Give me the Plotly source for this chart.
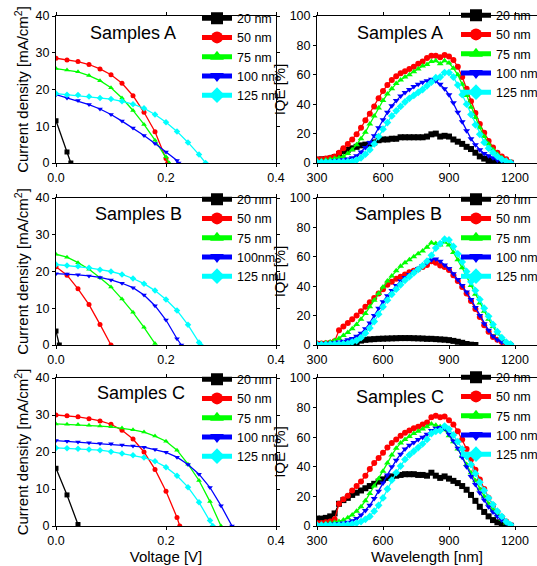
import plotly.graph_objects as go

# ---------------- J-V data ----------------
jvA_20_v = [0.0, 0.02, 0.027]
jvA_20_j = [11.5, 3.0, 0.0]
jvA_50_v = [0.0, 0.02, 0.04, 0.06, 0.08, 0.10, 0.12, 0.14, 0.16, 0.18, 0.20, 0.203]
jvA_50_j = [28.5, 28.0, 27.6, 26.8, 25.6, 24.0, 21.7, 18.3, 13.8, 8.5, 1.2, 0.0]
jvA_75_v = [0.0, 0.02, 0.04, 0.06, 0.08, 0.10, 0.12, 0.14, 0.16, 0.18, 0.20, 0.206]
jvA_75_j = [25.7, 25.3, 24.8, 23.8, 22.4, 20.5, 17.7, 14.3, 10.5, 6.2, 1.7, 0.0]
jvA_100_v = [0.0, 0.02, 0.04, 0.06, 0.08, 0.10, 0.12, 0.14, 0.16, 0.18, 0.20, 0.22, 0.223]
jvA_100_j = [18.6, 17.7, 17.0, 15.9, 14.7, 13.2, 11.4, 9.5, 7.5, 5.3, 3.0, 0.7, 0.0]
jvA_125_v = [0.0, 0.02, 0.04, 0.06, 0.08, 0.10, 0.12, 0.14, 0.16, 0.18, 0.20, 0.22, 0.24, 0.26, 0.272]
jvA_125_j = [18.9, 18.6, 18.5, 18.1, 17.7, 17.4, 16.8, 16.0, 14.9, 13.2, 11.1, 8.6, 5.6, 2.3, 0.0]

jvB_20_v = [0.0, 0.006]
jvB_20_j = [3.8, 0.0]
jvB_50_v = [0.0, 0.02, 0.04, 0.06, 0.08, 0.10]
jvB_50_j = [21.3, 19.0, 15.3, 11.0, 5.6, 0.0]
jvB_75_v = [0.0, 0.02, 0.04, 0.06, 0.08, 0.10, 0.12, 0.14, 0.16, 0.18]
jvB_75_j = [24.7, 23.9, 22.4, 20.6, 18.3, 15.8, 12.5, 8.9, 4.8, 0.4]
jvB_100_v = [0.0, 0.02, 0.04, 0.06, 0.08, 0.10, 0.12, 0.14, 0.16, 0.18, 0.20, 0.22, 0.228]
jvB_100_j = [19.4, 19.3, 19.1, 18.8, 18.4, 17.7, 16.8, 15.6, 13.6, 10.7, 6.8, 1.7, 0.0]
jvB_125_v = [0.0, 0.02, 0.04, 0.06, 0.08, 0.10, 0.12, 0.14, 0.16, 0.18, 0.20, 0.22, 0.24, 0.26, 0.263]
jvB_125_j = [21.9, 21.6, 21.4, 21.0, 20.5, 20.0, 19.2, 18.1, 16.7, 14.8, 12.4, 9.4, 5.5, 0.7, 0.0]

jvC_20_v = [0.0, 0.02, 0.04]
jvC_20_j = [15.6, 8.4, 0.4]
jvC_50_v = [0.0, 0.02, 0.04, 0.06, 0.08, 0.10, 0.12, 0.14, 0.16, 0.18, 0.20, 0.22, 0.225]
jvC_50_j = [30.0, 29.8, 29.5, 29.0, 28.4, 27.5, 25.9, 23.5, 20.0, 15.3, 9.4, 2.3, 0.0]
jvC_75_v = [0.0, 0.02, 0.04, 0.06, 0.08, 0.10, 0.12, 0.14, 0.16, 0.18, 0.20, 0.22, 0.24, 0.26, 0.28, 0.30]
jvC_75_j = [27.6, 27.5, 27.4, 27.2, 27.0, 26.8, 26.5, 26.0, 25.4, 24.3, 22.9, 20.5, 16.7, 12.3, 6.6, 0.0]
jvC_100_v = [0.0, 0.02, 0.04, 0.06, 0.08, 0.10, 0.12, 0.14, 0.16, 0.18, 0.20, 0.22, 0.24, 0.26, 0.28, 0.30, 0.32]
jvC_100_j = [23.1, 22.9, 22.7, 22.5, 22.3, 22.2, 21.9, 21.6, 21.3, 20.7, 19.9, 18.6, 16.6, 14.0, 10.4, 5.5, 0.0]
jvC_125_v = [0.0, 0.02, 0.04, 0.06, 0.08, 0.10, 0.12, 0.14, 0.16, 0.18, 0.20, 0.22, 0.24, 0.26, 0.28, 0.285]
jvC_125_j = [21.1, 21.0, 20.9, 20.7, 20.5, 20.1, 19.6, 19.1, 18.5, 17.5, 15.9, 13.6, 10.5, 6.4, 1.5, 0.0]

# ---------------- IQE data ----------------
wavelength = [300, 320, 340, 360, 380, 400, 420, 440, 460,
              480, 500, 520, 540, 560, 580, 600, 620, 640,
              660, 680, 700, 720, 740, 760, 780, 800, 820,
              840, 860, 880, 900, 920, 940, 960, 980, 1000,
              1020, 1040, 1060, 1080, 1100, 1120, 1140, 1160, 1180]

iqeA_20 = [2, 2.5, 2.5, 3, 4, 6, 8, 9, 10,
           11, 12, 12.5, 13, 14, 15.5, 16, 16, 16.5,
           16.5, 17.5, 17.5, 17.5, 17.5, 17.5, 17.5, 18, 19.5,
           20, 18, 18.5, 18, 16, 14.5, 13, 11, 9.5,
           7, 4.5, 3, 2, 1.2, 0.7, 0.4, 0.2, 0.1]
iqeA_50 = [2.5, 2.5, 3, 3.5, 4.5, 7, 10, 13, 16,
           19.5, 24, 29, 33.5, 38.5, 44, 49, 53, 56.5,
           59, 61, 62.5, 64, 65.5, 67.5, 69, 71.5, 73,
           73, 72, 73.5, 72.5, 70, 65.5, 58.5, 50.5, 42,
           34, 26.5, 20.5, 15, 10.5, 7, 4.5, 2.5, 0.5]
iqeA_75 = [1.5, 1.5, 2, 2.5, 3, 3.5, 4.5, 6.5, 9,
           12.5, 16.5, 21, 26.5, 32, 37.5, 42.5, 47, 50.5,
           54, 56.5, 58.5, 60, 62, 64, 66, 67, 69,
           69.5, 67.5, 69.5, 68, 64.5, 60, 53.5, 46, 38,
           31, 24, 18, 13, 9, 6, 3.5, 1.5, 0.3]
iqeA_100 = [1, 1, 1, 1.2, 1.5, 1.8, 2.2, 2.8, 3.5,
            5, 7.5, 10.5, 14, 18.5, 24, 29.5, 34.5, 39,
            42.5, 45.5, 48, 50, 52, 53.5, 55, 56, 57,
            56, 53.5, 50.5, 46.5, 41, 34.5, 28, 22, 16.5,
            12.5, 9, 6.5, 5, 3.5, 2, 1.2, 0.5, 0.1]
iqeA_125 = [0.5, 0.5, 0.5, 0.6, 0.7, 0.8, 0.8, 0.9, 1,
            2, 3.5, 6, 9, 13, 18, 23, 27.5, 32,
            35.5, 38.5, 41.5, 44, 46, 48, 50, 52.5, 55,
            58, 58.5, 61.5, 61.5, 58.5, 53, 46.5, 40, 33,
            26, 19.5, 14, 10, 7, 4.5, 2.5, 1.2, 0.2]

iqeB_20 = [0.3, 0.3, 0.3, 0.3, 0.3, 0.3, 0.4, 0.5, 1,
           2, 3, 3.5, 3.8, 4, 4.2, 4.3, 4.4, 4.5,
           4.6, 4.7, 4.7, 4.7, 4.6, 4.5, 4.4, 4.2, 4.2,
           4, 3.8, 3.6, 3.3, 2.8, 2.2, 1.5, 0.7, 0.2,
           0, None, None, None, None, None, None, None, None]
iqeB_50 = [1, 1, 1.2, 1.5, 2.5, 10, 12.5, 15, 17.5,
           20, 23, 26, 29, 32, 35, 38, 41, 43,
           45, 46.5, 48, 49.5, 50.5, 51.5, 53, 54.5, 57,
           56, 54, 53, 51, 47.5, 43.5, 39.5, 35, 30,
           24.5, 19, 13.5, 9, 5.5, 3.5, 2, 1, 0.3]
iqeB_75 = [1, 1, 1.5, 2, 3, 4.5, 6.5, 8.5, 11,
           14, 17.5, 21.5, 26, 30.5, 35, 39.5, 43.5, 47,
           50.5, 53.5, 56, 58, 60, 62, 64, 66.5, 69.5,
           69, 68, 70, 68, 63, 58, 52.5, 46.5, 40.5,
           34.5, 28.5, 23, 17.5, 12.5, 8, 4.5, 2, 0.5]
iqeB_100 = [0.8, 0.8, 1, 1.2, 1.5, 2, 2.5, 3.5, 4.5,
            6, 8, 11, 15, 20, 25, 29.5, 33.5, 37,
            40.5, 43.5, 46, 48, 50, 52, 54, 56, 58,
            58.5, 57, 54.5, 52, 48.5, 44.5, 40.5, 36, 31,
            25.5, 20, 14.5, 10, 6, 3.5, 2, 1, 0.3]
iqeB_125 = [0.3, 0.3, 0.3, 0.4, 0.5, 0.6, 0.8, 1, 2,
            3, 5, 8, 11.5, 16, 21, 26, 30.5, 34.5,
            38, 41, 44, 46.5, 49, 51.5, 54, 57, 61,
            66, 69, 72, 71.5, 67, 62, 56.5, 50, 43,
            37, 31, 25, 19.5, 14, 9, 5, 2, 0.5]

iqeC_20 = [5, 5, 5.5, 6.5, 8.5, 15, 17.5, 19, 21,
           22.5, 24, 25.5, 27, 28.5, 30, 31.5, 32.5, 33.5,
           34, 34.5, 35, 35, 35, 34.5, 34.5, 34, 36,
           34, 32.5, 33.5, 32, 30.5, 29, 27, 24.5, 21,
           17, 13, 9.5, 6.5, 4, 2.5, 1.2, 0.5, 0.2]
iqeC_50 = [2, 2, 2.5, 3, 4.5, 15, 18, 20.5, 24,
           27, 30, 34, 38.5, 42.5, 46, 49.5, 53, 56,
           58.5, 61, 63, 64.5, 66, 67, 68.5, 70, 73.5,
           74.5, 73.5, 74, 71.5, 68.5, 64, 58.5, 52, 45,
           38, 31.5, 25, 19, 14, 9.5, 6, 3, 0.5]
iqeC_75 = [1, 1, 1.5, 2, 2.5, 3, 4, 5.5, 7.5,
           10, 13, 17, 22, 27, 32, 37, 42.5, 48,
           52.5, 56, 58.5, 60.5, 62.5, 64, 65.5, 67, 69,
           68, 67, 65, 61, 57, 52, 47, 41.5, 36,
           30.5, 25, 20, 15, 11, 7.5, 4.5, 2, 0.5]
iqeC_100 = [1, 1, 1, 1.2, 1.4, 1.6, 2, 2.5, 3.5,
            5, 7.5, 10.5, 14, 18.5, 23.5, 29, 34.5, 40,
            44.5, 48.5, 52, 54.5, 56.5, 58.5, 60, 62, 64.5,
            66, 66.5, 66, 62, 57.5, 52.5, 46.5, 40, 33.5,
            28, 22.5, 17.5, 13, 9.5, 6.5, 4, 2, 0.5]
iqeC_125 = [0.5, 0.5, 0.5, 0.5, 0.5, 0.5, 0.7, 0.9, 1.3,
            2, 3, 4.5, 6.5, 10, 14, 19, 25, 31,
            36, 40.5, 45, 48, 50.5, 53, 55.5, 58.5, 62.5,
            64, 64.5, 67.5, 65.5, 61.5, 57, 52, 47, 41.5,
            35.5, 29.5, 24, 19, 14.5, 10, 6.5, 3, 0.8]

labels = ["20 nm", "50 nm", "75 nm", "100 nm", "125 nm"]
labels_jvB = ["20 nm", "50 nm", "75 nm", "100nm", "125 nm"]
sample_names = ["Samples A", "Samples B", "Samples C"]

# ---------------- styling ----------------
colors = ["#000000", "#ff0000", "#00ff00", "#0000ff", "#00ffff"]
symbols = ["square", "circle", "triangle-up", "triangle-down", "diamond"]
FONT = "Liberation Sans, Arial, sans-serif"
W, H = 537, 566

jv_sets = [
    [(jvA_20_v, jvA_20_j), (jvA_50_v, jvA_50_j), (jvA_75_v, jvA_75_j), (jvA_100_v, jvA_100_j), (jvA_125_v, jvA_125_j)],
    [(jvB_20_v, jvB_20_j), (jvB_50_v, jvB_50_j), (jvB_75_v, jvB_75_j), (jvB_100_v, jvB_100_j), (jvB_125_v, jvB_125_j)],
    [(jvC_20_v, jvC_20_j), (jvC_50_v, jvC_50_j), (jvC_75_v, jvC_75_j), (jvC_100_v, jvC_100_j), (jvC_125_v, jvC_125_j)],
]
iqe_sets = [
    [iqeA_20, iqeA_50, iqeA_75, iqeA_100, iqeA_125],
    [iqeB_20, iqeB_50, iqeB_75, iqeB_100, iqeB_125],
    [iqeC_20, iqeC_50, iqeC_75, iqeC_100, iqeC_125],
]

# panel pixel boxes (left, right, top, bottom)
col_px = [(56, 276), (317, 537)]
row_px = [(16, 163), (198, 345), (378, 526)]
legend_mid = [[57, 54], [238, 238], [418, 416]]
legend_left = [197, 456]
label_pos = [[(133, 33), (400, 33)], [(138, 214), (398, 214)], [(141, 393), (400, 397)]]

fig = go.Figure()
layout = dict(
    width=W, height=H, margin=dict(l=0, r=0, t=0, b=0, autoexpand=False),
    paper_bgcolor="white", plot_bgcolor="white",
    font=dict(family=FONT, size=12.5, color="#000000"),
    showlegend=True, annotations=[],
)

for r in range(3):
    for c in range(2):
        n = r * 2 + c + 1
        sfx = "" if n == 1 else str(n)
        xref, yref = "x" + sfx, "y" + sfx
        leg = "legend" + sfx
        names = labels_jvB if (r == 1 and c == 0) else labels
        for k in range(5):
            if c == 0:
                xv, yv = jv_sets[r][k]
                msize, lw = 5, 1.3
            else:
                xv, yv = wavelength, iqe_sets[r][k]
                msize, lw = 6, 1.3
            fig.add_trace(go.Scatter(
                x=xv, y=yv, mode="lines+markers", name=names[k],
                line=dict(color=colors[k], width=lw),
                marker=dict(symbol=symbols[k], size=msize, color=colors[k], line=dict(width=0)),
                xaxis=xref, yaxis=yref, legend=leg, cliponaxis=True,
            ))
        x0, x1 = col_px[c]
        t0, b0 = row_px[r]
        ax_common = dict(showline=True, linecolor="#000000", linewidth=1, mirror="ticks",
                         ticks="outside", ticklen=3, tickcolor="#000000", showgrid=False,
                         zeroline=False, automargin=False, tickfont=dict(size=12.5, family=FONT))
        if c == 0:
            xa = dict(range=[0, 0.4], tickvals=[0.0, 0.2, 0.4], tickformat=".1f")
            ya = dict(range=[0, 40], tickvals=[0, 10, 20, 30, 40],
                      title=dict(text="Current density [mA/cm<sup>2</sup>]", font=dict(size=15, family=FONT), standoff=3))
            xtitle = "Voltage [V]"
        else:
            xa = dict(range=[300, 1300], tickvals=[300, 600, 900, 1200])
            ya = dict(range=[0, 100], tickvals=[0, 20, 40, 60, 80, 100],
                      title=dict(text="IQE [%]", font=dict(size=15, family=FONT), standoff=0))
            xtitle = "Wavelength [nm]"
        if r == 2:
            xa["title"] = dict(text=xtitle, font=dict(size=15, family=FONT), standoff=4)
        xa.update(ax_common)
        ya.update(ax_common)
        xa.update(domain=[x0 / W, x1 / W], anchor=yref)
        ya.update(domain=[1 - b0 / H, 1 - t0 / H], anchor=xref)
        layout["xaxis" + sfx] = xa
        layout["yaxis" + sfx] = ya
        layout[leg] = dict(
            x=legend_left[c] / W, y=1 - legend_mid[r][c] / H, xanchor="left", yanchor="middle",
            bgcolor="rgba(0,0,0,0)", borderwidth=0, itemsizing="constant",
            font=dict(size=12.5, family=FONT), tracegroupgap=0,
        )
        lx, ly = label_pos[r][c]
        layout["annotations"].append(dict(
            text=sample_names[r], x=lx / W, y=1 - ly / H, xref="paper", yref="paper",
            showarrow=False, xanchor="center", yanchor="middle",
            font=dict(size=18, family=FONT, color="#000000"),
        ))

fig.update_layout(**layout)
fig.write_html("out.html", config={"displayModeBar": False},
               post_script="document.body.style.margin='0';document.body.style.overflow='hidden';")
